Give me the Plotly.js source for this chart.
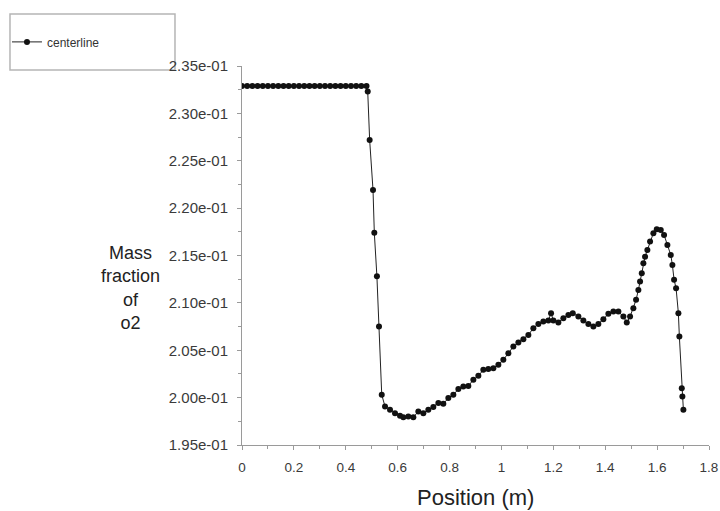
<!DOCTYPE html>
<html>
<head>
<meta charset="utf-8">
<script src="https://cdn.plot.ly/plotly-3.0.1.min.js"></script>
<style>
  html, body { margin: 0; padding: 0; background: #fff; }
  #chart { width: 720px; height: 511px; }
</style>
</head>
<body>
<div id="chart"></div>
<script>
// Position (m)
const positions = [
  0.00, 0.02, 0.04, 0.06, 0.08, 0.10, 0.12, 0.14, 0.16, 0.18, 0.20, 0.22, 0.24,
  0.26, 0.28, 0.30, 0.32, 0.34, 0.36, 0.38, 0.40, 0.42, 0.44, 0.46, 0.48,
  0.4846, 0.492, 0.505, 0.510, 0.520, 0.528, 0.5386,
  0.5513, 0.5705, 0.5898, 0.6091, 0.6218, 0.6411, 0.6604, 0.6797, 0.6989,
  0.7182, 0.7375, 0.7568, 0.7760, 0.7953, 0.8146, 0.8339, 0.8531, 0.8724,
  0.8917, 0.9110, 0.9302, 0.9495, 0.9688, 0.9881, 1.0073, 1.0266, 1.0459,
  1.0652, 1.0845, 1.1037, 1.1230, 1.1423, 1.1615, 1.1808, 1.1912, 1.2001,
  1.2194, 1.2386, 1.2579, 1.2749, 1.2965, 1.3157, 1.3350, 1.3543, 1.3736,
  1.3928, 1.4121, 1.4314, 1.4507, 1.4700, 1.4831, 1.4958, 1.5085, 1.5189,
  1.5278, 1.5343, 1.5409, 1.5470, 1.5536, 1.5625, 1.5729, 1.5856, 1.5987,
  1.6141, 1.6268, 1.6396, 1.6527, 1.6589, 1.6654, 1.6731, 1.6820, 1.6858,
  1.6951, 1.6974, 1.7013
];
// Mass fraction of o2 along the centerline
const o2Fraction = [
  0.2329, 0.2329, 0.2329, 0.2329, 0.2329, 0.2329, 0.2329, 0.2329, 0.2329, 0.2329, 0.2329, 0.2329, 0.2329,
  0.2329, 0.2329, 0.2329, 0.2329, 0.2329, 0.2329, 0.2329, 0.2329, 0.2329, 0.2329, 0.2329, 0.2329,
  0.2323, 0.2272, 0.2219, 0.2174, 0.2128, 0.2075, 0.2003,
  0.19906, 0.19871, 0.19836, 0.19808, 0.19794, 0.19801, 0.19794, 0.19853, 0.19836,
  0.19871, 0.19900, 0.19942, 0.19935, 0.19995, 0.20030, 0.20090, 0.20117, 0.20124,
  0.20188, 0.20230, 0.20293, 0.20301, 0.20311, 0.20346, 0.20399, 0.20469, 0.20539,
  0.20581, 0.20617, 0.20662, 0.20733, 0.20778, 0.20803, 0.20813, 0.20891, 0.20813,
  0.20792, 0.20839, 0.20873, 0.20891, 0.20855, 0.20813, 0.20778, 0.20750, 0.20778,
  0.20828, 0.20884, 0.20908, 0.20908, 0.20855, 0.20792, 0.20855, 0.20944, 0.21032,
  0.21137, 0.21225, 0.21313, 0.21419, 0.21488, 0.21559, 0.21647, 0.21735, 0.21777,
  0.21770, 0.21717, 0.21612, 0.21506, 0.21401, 0.21243, 0.21155, 0.20891, 0.20644,
  0.20100, 0.20012, 0.19871
];
const seriesName = "centerline";
const xTickVals = [0, 0.2, 0.4, 0.6, 0.8, 1, 1.2, 1.4, 1.6, 1.8];
const xTickText = ["0", "0.2", "0.4", "0.6", "0.8", "1", "1.2", "1.4", "1.6", "1.8"];
const yTickVals = [0.195, 0.200, 0.205, 0.210, 0.215, 0.220, 0.225, 0.230, 0.235];
const yTickText = ["1.95e-01", "2.00e-01", "2.05e-01", "2.10e-01", "2.15e-01",
                   "2.20e-01", "2.25e-01", "2.30e-01", "2.35e-01"];
const xTitle = "Position (m)";
const yTitle = "Mass<br>fraction<br>of<br>o2";

const font = "Liberation Sans, Arial, sans-serif";

const trace = {
  x: positions,
  y: o2Fraction,
  name: seriesName,
  type: "scatter",
  mode: "lines+markers",
  line: { color: "#222", width: 1 },
  marker: { color: "#111", size: 6, symbol: "circle" },
  showlegend: true
};

const axisCommon = {
  showgrid: false,
  zeroline: false,
  showline: true,
  linecolor: "#9a9a9a",
  linewidth: 1,
  ticks: "outside",
  ticklen: 4,
  tickcolor: "#9a9a9a",
  mirror: false,
  automargin: false
};

const layout = {
  width: 720,
  height: 511,
  margin: { l: 242, r: 11, t: 66, b: 66 },
  paper_bgcolor: "#fff",
  plot_bgcolor: "#fff",
  font: { family: font, color: "#333" },
  xaxis: Object.assign({}, axisCommon, {
    range: [0, 1.8],
    tickmode: "array",
    tickvals: xTickVals,
    ticktext: xTickText,
    tickfont: { family: font, size: 13.5, color: "#3a3a3a" },
    ticklabelstandoff: 6,
    minor: { dtick: 0.1, ticks: "outside", ticklen: 3, tickcolor: "#9a9a9a" }
  }),
  yaxis: Object.assign({}, axisCommon, {
    range: [0.195, 0.235],
    tickmode: "array",
    tickvals: yTickVals,
    ticktext: yTickText,
    tickfont: { family: font, size: 15, color: "#3a3a3a" },
    ticklabelstandoff: 6,
    minor: { dtick: 0.0025, tick0: 0.195, ticks: "outside", ticklen: 3, tickcolor: "#9a9a9a" }
  }),
  showlegend: true,
  legend: {
    xref: "container", yref: "container",
    x: 0.0097, y: 0.918, xanchor: "left", yanchor: "middle",
    bgcolor: "rgba(0,0,0,0)",
    borderwidth: 0,
    font: { family: font, size: 12, color: "#333" },
    itemwidth: 30
  },
  shapes: [{
    type: "rect", xref: "paper", yref: "paper",
    x0: -0.4968, x1: -0.1435, y0: 0.9894, y1: 1.1372,
    line: { color: "#b5b5b5", width: 1.5 },
    fillcolor: "rgba(0,0,0,0)",
    layer: "below"
  }],
  annotations: [
    {
      text: yTitle, xref: "paper", yref: "paper",
      x: -0.2398, y: 0.414, xanchor: "center", yanchor: "middle",
      showarrow: false, align: "center",
      font: { family: font, size: 18, color: "#222" }
    },
    {
      text: xTitle, xref: "paper", yref: "paper",
      x: 0.501, y: -0.1398, xanchor: "center", yanchor: "middle",
      showarrow: false,
      font: { family: font, size: 22, color: "#222" }
    }
  ]
};

Plotly.newPlot("chart", [trace], layout, { displayModeBar: false, staticPlot: true });
</script>
</body>
</html>
